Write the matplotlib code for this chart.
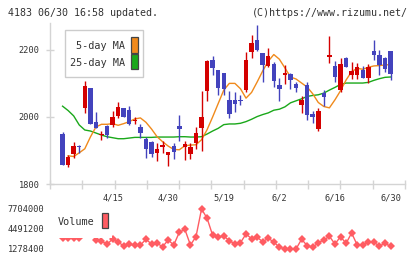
import numpy as np
import matplotlib
matplotlib.use("Agg")
import matplotlib.pyplot as plt
from matplotlib.patches import Rectangle
from matplotlib.transforms import blended_transform_factory

nan = np.nan

# ---------------- data ----------------
date_labels = ["4/15", "4/30", "5/19", "6/2", "6/16", "6/30"]
date_label_idx = [10, 20, 30, 40, 50, 60]

open_ = [1930, 1949, 1857, 1889, 1912, 2028, 2086, 1984, 1946, 1973,
         1976, 2004, 2026, 2021, 1989, 1969, 1935, 1925, 1893, 1911,
         1887, 1914, 1973, 1911, 1890, 1921, 1968, 2078, 2170, 2140,
         2131, 2051, 2049, 2050, 2081, 2195, 2230, 2191, 2153, 2158,
         2096, 2126, 2127, 2099, 2036, 2096, 2008, 1964, 2071, 2180,
         2152, 2079, 2175, 2125, 2125, 2140, 2115, 2197, 2185, 2177,
         2197]
close = [1931, 1857, 1881, 1913, 1910, 2092, 1979, 1968, 1949, 1946,
         1999, 2029, 2001, 1978, 1992, 1951, 1904, 1889, 1905, 1917,
         1895, 1895, 1965, 1918, 1910, 1951, 1999, 2167, 2147, 2087,
         2084, 2009, 2039, 2048, 2170, 2220, 2200, 2155, 2182, 2108,
         2084, 2132, 2110, 2087, 2049, 2006, 1999, 2018, 2058, 2185,
         2120, 2158, 2150, 2137, 2148, 2117, 2148, 2185, 2154, 2143,
         2128]
high = [1932, 1956, 1885, 1924, 1916, 2107, 2087, 2016, 1959, 1975,
        2019, 2043, 2027, 2033, 2001, 1978, 1940, 1927, 1921, 1928,
        1896, 1921, 2006, 1928, 1921, 1969, 2078, 2170, 2182, 2141,
        2132, 2078, 2075, 2065, 2195, 2243, 2275, 2192, 2205, 2165,
        2116, 2155, 2132, 2105, 2063, 2104, 2018, 2026, 2081, 2242,
        2168, 2175, 2180, 2165, 2160, 2152, 2158, 2230, 2200, 2180,
        2198]
low = [1930, 1857, 1852, 1877, 1892, 2013, 1978, 1968, 1931, 1936,
       1971, 1996, 2000, 1977, 1978, 1936, 1879, 1880, 1870, 1893,
       1854, 1876, 1928, 1872, 1875, 1904, 1899, 2046, 2125, 2066,
       2064, 1996, 2016, 2036, 2073, 2177, 2198, 2105, 2148, 2089,
       2046, 2099, 2084, 2073, 2013, 1991, 1983, 1959, 2033, 2160,
       2105, 2073, 2149, 2112, 2112, 2117, 2100, 2170, 2125, 2135,
       2110]
ma5 = [nan, nan, 1884, 1882, 1893, 1905, 1940, 1970, 1978, 1978,
       1980, 1975, 1980, 1986, 1994, 1997, 1984, 1964, 1941, 1926,
       1913, 1903, 1902, 1914, 1916, 1917, 1932, 1962, 2000, 2040,
       2080, 2100, 2100, 2084, 2056, 2073, 2104, 2137, 2166, 2186,
       2172, 2146, 2119, 2113, 2101, 2089, 2069, 2043, 2031, 2027,
       2051, 2078, 2110, 2135, 2145, 2142, 2148, 2152, 2153, 2155,
       2156]
ma25 = [nan, 2032, 2019, 2003, 1976, 1961, 1958, 1952, 1946, 1941,
        1938, 1935, 1935, 1937, 1939, 1939, 1939, 1939, 1940, 1940,
        1940, 1940, 1941, 1941, 1940, 1940, 1941, 1949, 1958, 1966,
        1977, 1979, 1979, 1981, 1986, 1993, 2001, 2007, 2012, 2020,
        2023, 2030, 2042, 2048, 2054, 2061, 2064, 2066, 2071, 2080,
        2088, 2097, 2101, 2101, 2101, 2101, 2103, 2109, 2114, 2118,
        2119]
volume = [nan, 2970000, 2970000, 2970000, 2970000, 4500000, 5000000, 2720000, 2560000, 2030000,
          2880000, 2350000, 1810000, 2030000, 1920000, 1920000, 2840000, 2080000, 2190000, 1650000,
          2720000, 1920000, 3960000, 4440000, 1920000, 3260000, 7704000, 6210000, 3480000, 3210000,
          3370000, 2610000, 2080000, 2290000, 3690000, 2930000, 3160000, 2450000, 3000000, 2400000,
          1550000, 1330000, 1278400, 1280000, 2850000, 1810000, 1550000, 2290000, 2720000, 3320000,
          2080000, 3260000, 2190000, 3850000, 1920000, 1920000, 2350000, 2350000, 1760000, 2190000,
          1710000]
price_ticks = [1800, 2000, 2200]
vol_ticks = [1278400, 4491200, 7704000]

header_left = "4183 06/30 16:58 updated."
header_right = "(C)https://www.rizumu.net/"

# ---------------- styling ----------------
W, H = 420, 259
FONT = "DejaVu Sans Mono"
TXT = "#333333"
GRID = "#d4d4d4"
UP = "#d40000"
DOWN = "#4343bd"
C_MA5 = "#f08a1c"
C_MA25 = "#1aa81a"
C_VOL = "#ff5c62"

def fx(px):
    return px / W

def fy(py):
    return 1 - py / H

fig = plt.figure(figsize=(W / 100, H / 100), dpi=100)
fig.patch.set_facecolor("white")

n = len(close)
xs = np.arange(n)
x_lo, x_hi = -1.26, 62.6

# ---------------- price axes ----------------
ax = fig.add_axes([fx(50), fy(184), fx(405) - fx(50), fy(23) - fy(184)])
ax.set_xlim(x_lo, x_hi)
ax.set_ylim(1800, 2280)
for s in ["top", "right"]:
    ax.spines[s].set_visible(False)
for s in ["left", "bottom"]:
    ax.spines[s].set_color(GRID)
    ax.spines[s].set_linewidth(1.0)

ax.plot(xs, ma25, color=C_MA25, lw=1.0, zorder=2)
ax.plot(xs, ma5, color=C_MA5, lw=1.0, zorder=2)

o = np.array(open_, float)
c = np.array(close, float)
hi = np.array(high, float)
lo = np.array(low, float)
up = c >= o
cols = np.where(up, UP, DOWN)
ax.vlines(xs, lo, hi, colors=cols, lw=1.0, zorder=3)
body_bottom = np.minimum(o, c)
body_h = np.maximum(np.abs(c - o), 2.5)
ax.bar(xs, body_h, bottom=body_bottom, width=0.8, color=cols, linewidth=0, zorder=4)

ax.set_yticks(price_ticks)
ax.set_yticklabels([str(v) for v in price_ticks], fontsize=6.2, family=FONT, color=TXT)
ax.tick_params(axis="y", direction="inout", length=8 * 0.72, width=1, color=GRID, pad=4.6)
ax.set_xticks(np.linspace(x_lo, x_hi, 12))
ax.set_xticklabels([])
ax.tick_params(axis="x", direction="inout", length=9 * 0.72, width=1, color=GRID)

# date labels between panels
trans = blended_transform_factory(ax.transData, fig.transFigure)
for i, lab in zip(date_label_idx, date_labels):
    ax.text(xs[i], fy(198), lab, transform=trans, ha="center", va="center",
            fontsize=6.2, family=FONT, color=TXT, clip_on=False)

# price legend
fig.patches.append(Rectangle((fx(65), fy(77)), fx(143) - fx(65), fy(30) - fy(77),
                             transform=fig.transFigure, facecolor="white",
                             edgecolor="#cccccc", lw=1.0, zorder=10))
fig.text(fx(125), fy(46), "5-day MA", ha="right", va="center", fontsize=7.3,
         family=FONT, color=TXT, zorder=11)
fig.text(fx(125), fy(62.5), "25-day MA", ha="right", va="center", fontsize=7.3,
         family=FONT, color=TXT, zorder=11)
fig.patches.append(Rectangle((fx(131), fy(52.7)), fx(137.7) - fx(131), fy(37.3) - fy(52.7),
                             transform=fig.transFigure, facecolor=C_MA5,
                             edgecolor="#444444", lw=0.9, zorder=11))
fig.patches.append(Rectangle((fx(131), fy(69.3)), fx(137.7) - fx(131), fy(54.3) - fy(69.3),
                             transform=fig.transFigure, facecolor=C_MA25,
                             edgecolor="#444444", lw=0.9, zorder=11))

# ---------------- volume axes ----------------
axv = fig.add_axes([fx(50), fy(255), fx(405) - fx(50), fy(203) - fy(255)])
axv.set_xlim(x_lo, x_hi)
vmin, vmax = vol_ticks[0], vol_ticks[-1]
pad = (vmax - vmin) * 6 / 40
axv.set_ylim(vmin - pad, vmax + pad)
for s in axv.spines.values():
    s.set_visible(False)
axv.plot(xs, volume, color=C_VOL, lw=1.0, marker="D", markersize=4.2,
         markeredgewidth=0, markerfacecolor=C_VOL, zorder=2, clip_on=False)
axv.set_xticks([])
axv.set_yticks(vol_ticks)
axv.set_yticklabels([str(v) for v in vol_ticks], fontsize=6.2, family=FONT, color=TXT)
axv.tick_params(axis="y", length=0, pad=4.0)

# volume legend
fig.patches.append(Rectangle((fx(55), fy(237.5)), fx(112) - fx(55), fy(205) - fy(237.5),
                             transform=fig.transFigure, facecolor="white",
                             edgecolor="none", zorder=10))
fig.text(fx(58), fy(222), "Volume", ha="left", va="center", fontsize=7.3,
         family=FONT, color=TXT, zorder=11)
fig.patches.append(Rectangle((fx(101.7), fy(228.3)), fx(108.3) - fx(101.7), fy(212.7) - fy(228.3),
                             transform=fig.transFigure, facecolor=C_VOL,
                             edgecolor="#444444", lw=0.9, zorder=11))

# header
fig.text(fx(8), fy(13), header_left, ha="left", va="center", fontsize=7.2,
         family=FONT, color=TXT)
fig.text(fx(408), fy(13), header_right, ha="right", va="center", fontsize=7.2,
         family=FONT, color=TXT)

fig.savefig("out.png", dpi=100, facecolor="white")
